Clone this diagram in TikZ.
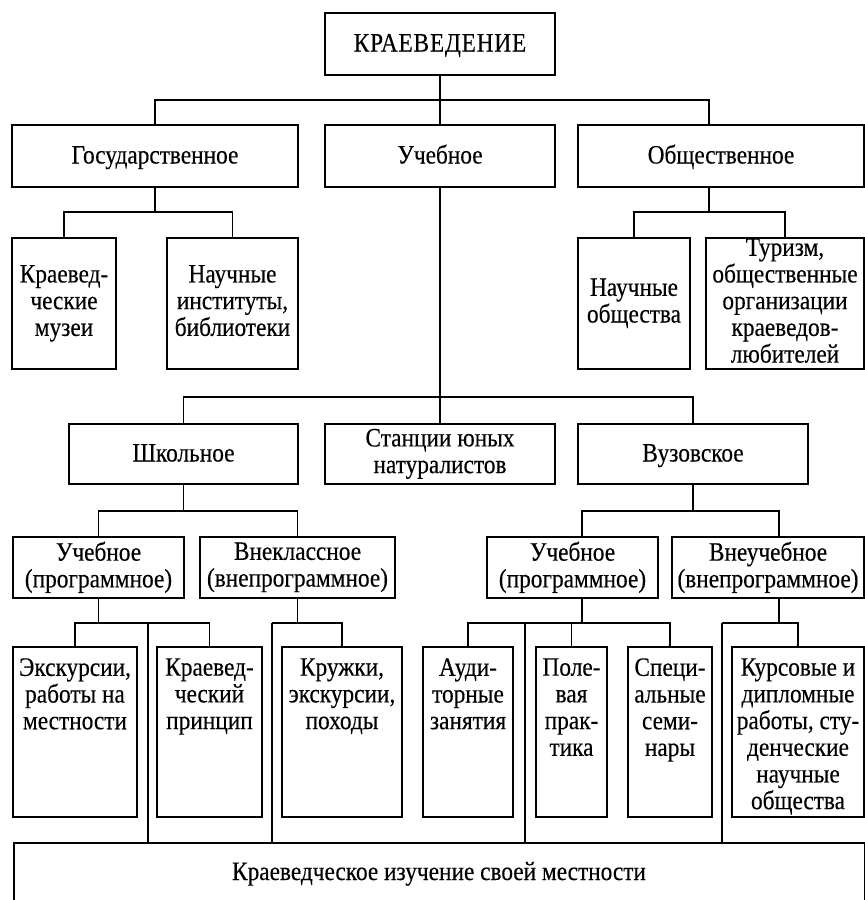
\documentclass[tikz,border=0pt]{standalone}
\usepackage{fontspec}
\setmainfont{Liberation Serif}[FakeStretch=0.88, FakeBold=0.3]
\newcommand\dfont{\fontsize{26.5}{26.7}\selectfont}
\newcommand\dstrut{\rule[-6pt]{0pt}{27pt}}
\begin{document}
\begin{tikzpicture}[x=1pt,y=-1pt,
  lw/.style={line width=1.8pt},
  box/.style={draw, lw, inner sep=0pt, align=center, font=\dfont,
    execute at begin node=\dstrut, execute at end node=\dstrut},
  txt/.style={inner sep=0pt, align=center, font=\dfont,
    execute at begin node=\dstrut, execute at end node=\dstrut},
  conn/.style={lw}]
\useasboundingbox (0,0) rectangle (865,900);
\clip (0,0) rectangle (865,900);
% level 1
\node[box, minimum width=230, minimum height=62] (k) at (440,44) {\addfontfeature{LetterSpace=3}КРАЕВЕДЕНИЕ};
% level 2
\node[box, minimum width=286, minimum height=62] (gos) at (155,156) {Государственное};
\node[box, minimum width=230, minimum height=62] (ucheb) at (440,156) {Учебное};
\node[box, minimum width=286, minimum height=62] (obsch) at (721,156) {Общественное};
% level 3
\node[box, minimum width=104, minimum height=131] (kraev) at (64,303.5) {Краевед-\\ческие\\музеи};
\node[box, minimum width=131, minimum height=131] (nauch) at (232.5,303.5) {Научные\\институты,\\библиотеки};
\node[box, minimum width=112, minimum height=131] (nobsh) at (634,303.5) {Научные\\общества};
\node[box, minimum width=158, minimum height=131] (tur) at (785,303.5) {Туризм,\\общественные\\организации\\краеведов-\\любителей};
% level 4
\node[box, minimum width=229, minimum height=60] (shk) at (183.5,454) {Школьное};
\node[box, minimum width=230, minimum height=60] (stan) at (440,454) {Станции юных\\натуралистов};
\node[box, minimum width=230, minimum height=60] (vuz) at (693,454) {Вузовское};
% level 5
\node[box, minimum width=171, minimum height=61] (uch1) at (98.5,567.5) {Учебное\\(программное)};
\node[box, minimum width=195, minimum height=61] (vnekl) at (297.5,567.5) {Внеклассное\\(внепрограммное)};
\node[box, minimum width=171, minimum height=61] (uch2) at (572.5,567.5) {Учебное\\(программное)};
\node[box, minimum width=192, minimum height=61] (vneuch) at (768,567.5) {Внеучебное\\(внепрограммное)};
% level 6 boxes
\node[box, minimum width=124, minimum height=170] (e1) at (75,732) {};
\node[box, minimum width=105, minimum height=170] (e2) at (209.5,732) {};
\node[box, minimum width=120, minimum height=170] (e3) at (342,732) {};
\node[box, minimum width=90, minimum height=170] (e4) at (468,732) {};
\node[box, minimum width=71, minimum height=170] (e5) at (571.5,732) {};
\node[box, minimum width=84, minimum height=170] (e6) at (670,732) {};
\node[box, minimum width=132, minimum height=170] (e7) at (798,732) {};
\node[txt, anchor=north] (e1t) at ([yshift=-12pt]e1.north) {Экскурсии,\\работы на\\местности};
\node[txt, anchor=north] (e2t) at ([yshift=-12pt]e2.north) {Краевед-\\ческий\\принцип};
\node[txt, anchor=north] (e3t) at ([yshift=-12pt]e3.north) {Кружки,\\экскурсии,\\походы};
\node[txt, anchor=north] (e4t) at ([yshift=-12pt]e4.north) {Ауди-\\торные\\занятия};
\node[txt, anchor=north] (e5t) at ([yshift=-12pt]e5.north) {Поле-\\вая\\прак-\\тика};
\node[txt, anchor=north] (e6t) at ([yshift=-12pt]e6.north) {Специ-\\альные\\семи-\\нары};
\node[txt, anchor=north] (e7t) at ([yshift=-12pt]e7.north) {Курсовые и\\дипломные\\работы, сту-\\денческие\\научные\\общества};
% bottom box
\node[box, minimum width=851, minimum height=70, anchor=north west] (bot) at (13,842) {};
\node[txt, anchor=base] (bott) at (439,880) {Краеведческое изучение своей местности};
% bus coordinates
\coordinate (b1) at (440,100);
\coordinate (x709) at (709,0);
\coordinate (b2) at (155,212);
\coordinate (b3) at (709,212);
\coordinate (b4) at (440,397);
\coordinate (b5) at (183.5,511);
\coordinate (b6) at (693,511);
\coordinate (x582) at (582,0);
\coordinate (x779) at (779,0);
\coordinate (c1) at (98.5,623);
\coordinate (l1) at (148,623);
\coordinate (c2) at (297.5,623);
\coordinate (l2) at (272,623);
\coordinate (c3) at (582,623);
\coordinate (l3) at (525,623);
\coordinate (c4) at (779,623);
\coordinate (l4) at (722,623);
% connectors
\draw[conn] (k.south) -- (b1);
\draw[conn] (gos.north) |- (b1) -| (obsch.north -| x709);
\draw[conn] (b1) -- (ucheb.north);
\draw[conn] (gos.south) -- (b2);
\draw[conn] (kraev.north) |- (b2) -| (nauch.north);
\draw[conn] (obsch.south -| x709) -- (b3);
\draw[conn] (nobsh.north) |- (b3) -| (tur.north);
\draw[conn] (ucheb.south) -- (stan.north);
\draw[conn] (shk.north) |- (b4) -| (vuz.north);
\draw[conn] (shk.south) -- (b5);
\draw[conn] (uch1.north) |- (b5) -| (vnekl.north);
\draw[conn] (vuz.south) -- (b6);
\draw[conn] (uch2.north -| x582) |- (b6) -| (vneuch.north -| x779);
\draw[conn] (uch1.south) -- (c1);
\draw[conn] (e1.north) |- (c1) -| (e2.north);
\draw[conn] (l1) -- (l1 |- bot.north);
\draw[conn] (vnekl.south) -- (c2);
\draw[conn] (l2) -| (e3.north);
\draw[conn] (l2) -- (l2 |- bot.north);
\draw[conn] (uch2.south -| c3) -- (c3);
\draw[conn] (e4.north) |- (c3) -| (e6.north);
\draw[conn] (e5.north) -- (e5.north |- c3);
\draw[conn] (l3) -- (l3 |- bot.north);
\draw[conn] (vneuch.south -| c4) -- (c4);
\draw[conn] (l4) -| (e7.north);
\draw[conn] (l4) -- (l4 |- bot.north);
\end{tikzpicture}
\end{document}
